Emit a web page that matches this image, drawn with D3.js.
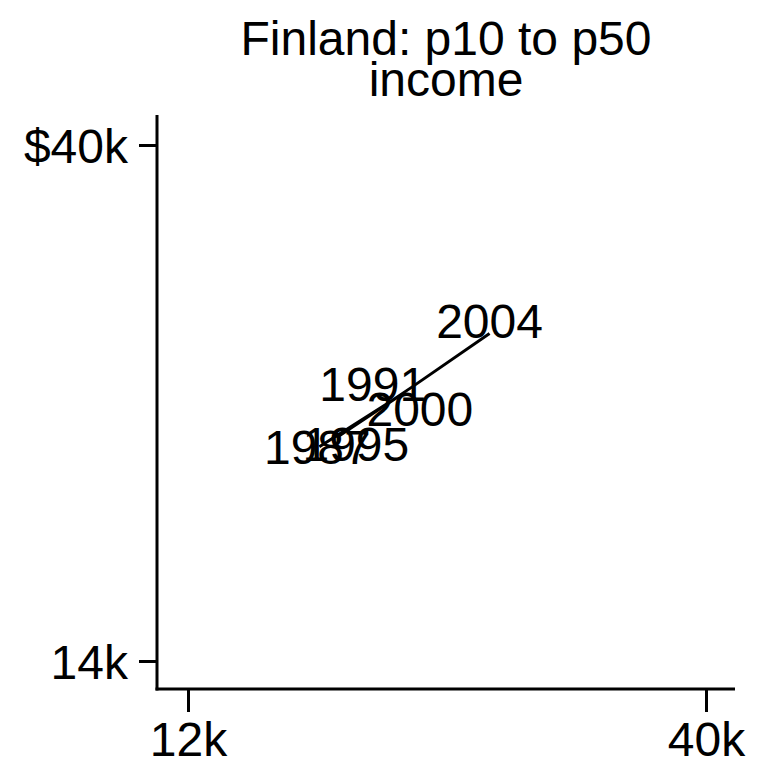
<!DOCTYPE html>
<html>
<head>
<meta charset="utf-8">
<script src="https://cdn.jsdelivr.net/npm/d3@7"></script>
<style>
  html, body { margin: 0; padding: 0; background: #fff; }
  svg { display: block; }
  text { font-family: "Liberation Sans", Arial, Helvetica, sans-serif; fill: #000; }
</style>
</head>
<body>
<svg id="chart" width="766" height="773"></svg>
<script>
// Survey years and income pairs (thousands of dollars)
const years = ["1987", "1991", "1995", "2000", "2004"];
const p10Income = [19.1, 23.5, 20.1, 24.1, 28.3];
const p50Income = [24.8, 27.4, 25.3, 27.8, 30.5];

// Axis ticks
const xTicks = [12, 40];
const xTickLabels = ["12k", "40k"];
const yTicks = [14, 40];
const yTickLabels = ["14k", "$40k"];

// Label nudges (px) so overlapping year labels stay legible
const labelNudge = [[-2, 0], [-28, -11], [18, 7], [8, 22], [0, -13]];

const titleLines = ["Finland: p10 to p50", "income"];

const W = 766, H = 773;
const plot = { left: 157, right: 735, top: 115, bottom: 689 };
const fontPx = 48;
const strokeW = 3;

const svg = d3.select("#chart");
svg.append("rect").attr("width", W).attr("height", H).attr("fill", "#fff");

const x = d3.scaleLinear().domain([12, 40]).range([188, 706]);
const y = d3.scaleLinear().domain([14, 40]).range([661, 145]);

// Title
const cx = (plot.left + plot.right) / 2;
svg.append("g").selectAll("text")
  .data(titleLines)
  .join("text")
  .attr("x", cx)
  .attr("y", (d, i) => 55 + i * 41)
  .attr("text-anchor", "middle")
  .style("font-size", fontPx + "px")
  .text(d => d);

// Y axis
const yAxis = d3.axisLeft(y)
  .tickValues(yTicks)
  .tickSize(18)
  .tickPadding(11)
  .tickFormat((d, i) => yTickLabels[i]);
const gy = svg.append("g").attr("transform", `translate(${plot.left},0)`).call(yAxis);
gy.select(".domain").remove();
gy.selectAll(".tick line").attr("stroke", "#000").attr("stroke-width", strokeW);
gy.selectAll(".tick text").style("font-size", fontPx + "px").attr("dy", "0.36em");
svg.append("line")
  .attr("x1", plot.left).attr("x2", plot.left)
  .attr("y1", plot.top).attr("y2", plot.bottom + strokeW / 2)
  .attr("stroke", "#000").attr("stroke-width", strokeW);

// X axis
const xAxis = d3.axisBottom(x)
  .tickValues(xTicks)
  .tickSize(23)
  .tickPadding(9)
  .tickFormat((d, i) => xTickLabels[i]);
const gx = svg.append("g").attr("transform", `translate(0,${plot.bottom})`).call(xAxis);
gx.select(".domain").remove();
gx.selectAll(".tick line").attr("stroke", "#000").attr("stroke-width", strokeW);
gx.selectAll(".tick text").style("font-size", fontPx + "px").attr("dy", "0.72em");
svg.append("line")
  .attr("x1", plot.left - strokeW / 2).attr("x2", plot.right)
  .attr("y1", plot.bottom).attr("y2", plot.bottom)
  .attr("stroke", "#000").attr("stroke-width", strokeW);

// Connected path through the years
const pts = years.map((yr, i) => ({ yr, x: p10Income[i], y: p50Income[i], nudge: labelNudge[i] }));
const line = d3.line().x(d => x(d.x)).y(d => y(d.y));
svg.append("path")
  .datum(pts)
  .attr("d", line)
  .attr("fill", "none")
  .attr("stroke", "#000")
  .attr("stroke-width", strokeW)
  .attr("stroke-linejoin", "round");

// Year labels centred on their points
svg.append("g").selectAll("text")
  .data(pts)
  .join("text")
  .attr("x", d => x(d.x) + d.nudge[0])
  .attr("y", d => y(d.y) + d.nudge[1])
  .attr("dy", "0.36em")
  .attr("text-anchor", "middle")
  .style("font-size", fontPx + "px")
  .text(d => d.yr);
</script>
</body>
</html>
